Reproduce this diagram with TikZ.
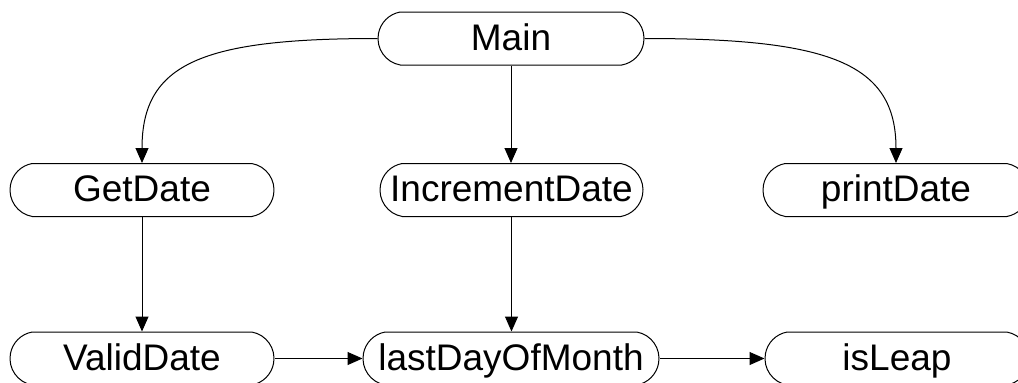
\documentclass[tikz,border=0pt]{standalone}
\usepackage{fontspec}
\setmainfont{Liberation Sans}
\usetikzlibrary{arrows.meta,shapes.misc}

\tikzset{
  func/.style={draw=black, line width=1pt, rounded rectangle,
    rounded rectangle arc length=160, minimum height=53pt, inner sep=0pt,
    text height=27pt, text depth=4pt,
    font=\fontsize{37}{40}\selectfont, text=black},
  call/.style={draw=black, line width=1pt,
    -{Triangle[length=15pt,width=13pt]}}
}

\begin{document}
\begin{tikzpicture}[x=1pt, y=-1pt]
  \useasboundingbox (0,0) rectangle (1018,383);

  % call tree nodes
  \node[func, minimum width=266pt] (main)      at (511,38.5)  {Main};
  \node[func, minimum width=264pt] (getdate)   at (142,190)   {GetDate};
  \node[func, minimum width=263pt] (incdate)   at (511.5,190) {IncrementDate};
  \node[func, minimum width=266pt] (printdate) at (896,190)   {printDate};
  \node[func, minimum width=264pt] (validdate) at (142,358.5) {ValidDate};
  \node[func, minimum width=296pt] (lastday)   at (511,358.5) {lastDayOfMonth};
  \node[func, minimum width=264pt] (isleap)    at (897,358.5) {isLeap};

  % calls
  \draw[call] (main.west) .. controls +(-175,0) and +(0,-100) .. (getdate.north);
  \draw[call] (main.east) .. controls +(185,0) and +(0,-100) .. (printdate.north);
  \draw[call] (main.south) -- (main.south |- incdate.north);
  \draw[call] (getdate.south) -- (validdate.north);
  \draw[call] (incdate.south) -- (incdate.south |- lastday.north);
  \draw[call] (validdate.east) -- (lastday.west);
  \draw[call] (lastday.east) -- (isleap.west);
\end{tikzpicture}
\end{document}
